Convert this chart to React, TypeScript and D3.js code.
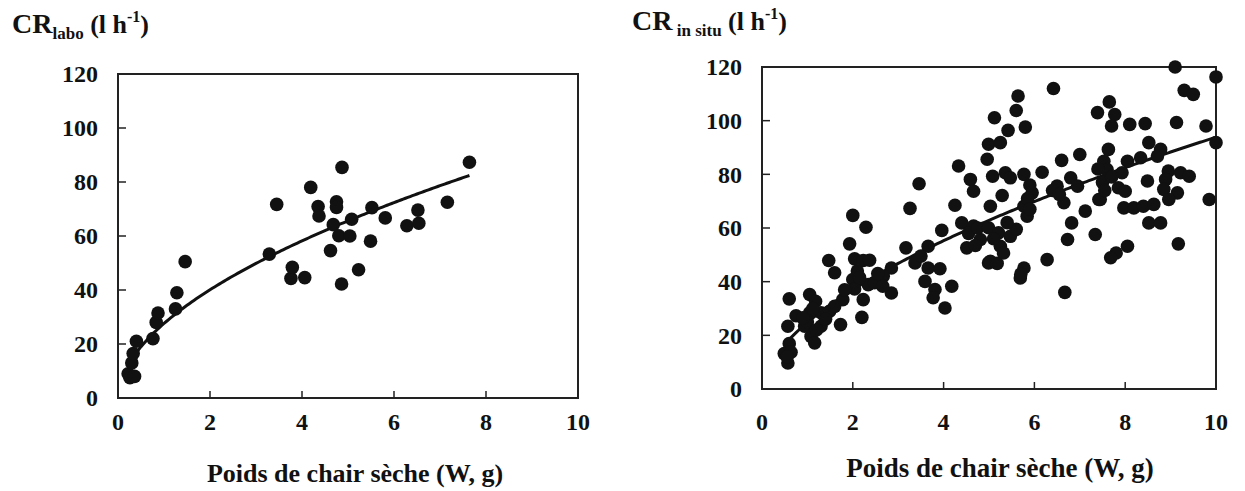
import * as d3 from "d3";

// CR labo : poids sec (g) / taux de filtration (l/h)
const laboW = [0.22, 0.26, 0.36, 0.3, 0.33, 0.4, 0.76, 0.83, 0.87, 1.25, 1.28, 1.46, 3.29, 3.45, 3.76, 3.79, 4.06, 4.19, 4.35, 4.37, 4.62, 4.68, 4.75, 4.75, 4.8, 4.86, 4.87, 5.04, 5.08, 5.23, 5.49, 5.52, 5.81, 6.28, 6.52, 6.54, 7.16, 7.64];
const laboCR = [9, 7.5, 8, 13, 16.5, 21, 22, 28, 31.5, 33, 39, 50.5, 53.3, 71.7, 44.3, 48.4, 44.6, 78, 70.9, 67.4, 54.6, 64.2, 72.7, 70.6, 60.1, 42.2, 85.4, 60, 66.2, 47.5, 58.1, 70.5, 66.7, 63.8, 69.6, 64.7, 72.5, 87.3];

// CR in situ
const situW = [
  2.0, 2.29, 1.93, 2.04, 2.23, 1.47, 1.6, 2.0, 2.04, 2.23, 2.2, 1.78, 1.73, 1.05, 1.18, 1.3, 1.49, 1.05, 0.94, 1.08, 1.16, 1.3, 0.6, 0.75, 0.57, 0.6, 0.49, 0.64, 0.57, 1.6, 1.82, 2.34,
  1.0, 1.2, 1.4, 0.9, 1.12, 0.55, 2.1, 2.15,
  3.46, 3.26, 3.96, 3.17, 3.66, 3.37, 3.66, 3.92, 3.59, 3.81, 4.18, 3.77, 4.03, 2.85, 2.67, 2.48, 2.85, 2.66, 4.33, 4.59, 4.66, 4.25, 4.4, 4.66, 4.51, 4.81, 4.99, 2.37,
  2.55, 3.5, 4.55, 4.75, 4.7,
  6.42, 5.64, 5.6, 5.12, 5.42, 5.8, 4.99, 5.25, 4.96, 5.08, 5.36, 5.47, 5.77, 6.17, 6.6, 7.0, 7.39, 5.95, 5.29, 5.03, 5.77, 5.84, 6.5, 6.8, 6.95, 6.65, 7.12, 7.42, 4.99, 5.21, 5.47, 5.25, 5.32, 6.82, 6.73, 7.34, 6.28, 5.03, 5.18, 5.77, 5.69, 6.67,
  5.85, 5.9, 5.6, 5.1, 5.4, 6.4, 6.55, 5.7, 5.9,
  9.1, 9.3, 9.5, 7.65, 7.77, 7.7, 8.1, 8.44, 9.13, 9.78, 7.63, 8.52, 8.78, 8.34, 8.05, 8.71, 7.53, 7.6, 7.93, 8.95, 9.22, 9.41, 8.49, 8.89, 8.85, 9.15, 8.96, 7.85, 8.0, 7.45, 9.85, 7.97, 8.19, 8.4, 8.63, 8.52, 8.78, 9.17, 8.05, 7.8, 7.68, 10.0, 10.0,
  7.5, 7.55, 7.7, 7.4,
];
const situCR = [
  64.7, 60.3, 54.1, 48.5, 47.9, 47.9, 43.3, 40.8, 37.3, 33.3, 26.7, 33.3, 24, 35.2, 32.7, 28.4, 29, 28.4, 23.4, 19.6, 17.2, 23.4, 33.6, 27.3, 23.4, 16.9, 13.2, 13.7, 9.7, 30.8, 37, 38.9,
  25, 22, 26, 26.5, 30, 12, 44, 41.5,
  76.5, 67.3, 59.1, 52.6, 53.2, 47, 45.1, 44.8, 40.1, 37.1, 38.3, 34, 30.2, 45.1, 42, 39.6, 35.8, 38.3, 83.1, 78.1, 73.7, 68.5, 61.9, 60.7, 52.6, 55.7, 47, 48,
  43, 49.5, 58, 60, 53.5,
  112, 109.2, 103.8, 101.1, 96.4, 97.6, 91.2, 91.8, 85.6, 79.3, 80.6, 78.7, 80, 80.8, 85.2, 87.4, 103, 73.1, 72.1, 68.1, 68.1, 64.4, 75.6, 78.7, 75.6, 69.4, 66.3, 70.6, 60.1, 58.2, 56.9, 53.2, 50.7, 61.9, 55.7, 57.6, 48.2, 47.6, 46.8, 45.1, 41.4, 36,
  71, 67, 59.5, 56, 62, 74, 72.5, 42.8, 76,
  120, 111.3, 109.8, 107, 102.3, 98, 98.6, 98.9, 99.3, 98, 89.3, 91.8, 89.3, 86.2, 84.9, 86.8, 84.9, 81.8, 80.6, 81.2, 80.6, 79.3, 77.5, 78.1, 74.4, 73.1, 70.6, 75, 73.7, 70.6, 70.6, 67.5, 67.5, 68.1, 68.8, 61.9, 61.9, 54.1, 53.2, 50.7, 48.9, 116.3, 91.8,
  77, 74, 79, 82,
];

// courbes ajustées CR = a W^b
const laboFit = { a: 27.6, b: 0.538, from: 0.25, to: 7.64 };
const situFit = { a: 24.8, b: 0.578, from: 0.55, to: 10 };

const xTicks = [0, 2, 4, 6, 8, 10];
const yTicks = [0, 20, 40, 60, 80, 100, 120];

const FONT = "'Liberation Serif', 'Times New Roman', serif";

type PanelProps = {
  xs: number[];
  ys: number[];
  fit: { a: number; b: number; from: number; to: number };
  box: { left: number; right: number; top: number; bottom: number };
  sub: string;
  titleX: number;
  titleY: number;
  axisTitleY: number;
  axisTitleDx: number;
  axisTitleSize: number;
};

function Panel({ xs, ys, fit, box, sub, titleX, titleY, axisTitleY, axisTitleDx, axisTitleSize }: PanelProps) {
  const x = d3.scaleLinear().domain([0, 10]).range([box.left, box.right]);
  const y = d3.scaleLinear().domain([0, 120]).range([box.bottom, box.top]);
  const line = d3.line<number>().x(d => x(d)).y(d => y(fit.a * Math.pow(d, fit.b)));
  const samples = d3.range(fit.from, fit.to, 0.05).concat([fit.to]);

  return (
    <g>
      <text x={titleX} y={titleY} fontFamily={FONT} fontWeight="bold" fontSize={28} fill="#111">
        CR
        <tspan fontSize={17} dy={6}>{sub}</tspan>
        <tspan fontSize={26} dy={-6}> (l h</tspan>
        <tspan fontSize={16} dy={-11}>-1</tspan>
        <tspan fontSize={26} dy={11}>)</tspan>
      </text>

      <rect x={box.left} y={box.top} width={box.right - box.left} height={box.bottom - box.top}
        fill="none" stroke="#222" strokeWidth={2} />

      {yTicks.slice(1, -1).map(t => (
        <line key={"yt" + t} x1={box.left} x2={box.left + 8} y1={y(t)} y2={y(t)} stroke="#222" strokeWidth={1.5} />
      ))}
      {xTicks.slice(1, -1).map(t => (
        <line key={"xt" + t} x1={x(t)} x2={x(t)} y1={box.bottom} y2={box.bottom - 7} stroke="#222" strokeWidth={1.5} />
      ))}

      {yTicks.map(t => (
        <text key={"yl" + t} x={box.left - 20} y={y(t)} dy="0.35em" textAnchor="end"
          fontFamily={FONT} fontWeight="bold" fontSize={24} fill="#111">{t}</text>
      ))}
      {xTicks.map(t => (
        <text key={"xl" + t} x={x(t)} y={430} textAnchor="middle"
          fontFamily={FONT} fontWeight="bold" fontSize={24} fill="#111">{t}</text>
      ))}

      <text x={x(5) + axisTitleDx} y={axisTitleY} textAnchor="middle" fontFamily={FONT}
        fontWeight="bold" fontSize={axisTitleSize} fill="#111">Poids de chair sèche (W, g)</text>

      <path d={line(samples) || ""} fill="none" stroke="#111" strokeWidth={3} />

      {xs.map((w, i) => (
        <circle key={i} cx={x(w)} cy={y(ys[i])} r={6.8} fill="#111" />
      ))}
    </g>
  );
}

export default function App() {
  return (
    <svg width={1245} height={491} style={{ position: "absolute", left: 0, top: 0, background: "#fff" }}>
      <rect width={1245} height={491} fill="#fff" />
      <Panel xs={laboW} ys={laboCR} fit={laboFit}
        box={{ left: 118, right: 578, top: 74, bottom: 398 }}
        sub="labo" titleX={12} titleY={33}
        axisTitleY={482} axisTitleDx={7} axisTitleSize={26} />
      <Panel xs={situW} ys={situCR} fit={situFit}
        box={{ left: 762, right: 1216, top: 67, bottom: 389 }}
        sub=" in situ" titleX={632} titleY={30}
        axisTitleY={477} axisTitleDx={11} axisTitleSize={27} />
    </svg>
  );
}
